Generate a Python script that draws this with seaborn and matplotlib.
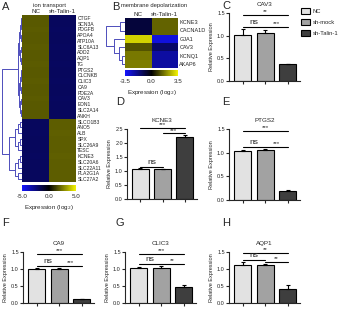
import numpy as np
import pandas as pd
import matplotlib
matplotlib.use('Agg')
import matplotlib.pyplot as plt
import seaborn as sns
from matplotlib.colors import LinearSegmentedColormap
from matplotlib.patches import Patch

sns.set_style('ticks')
plt.rcParams['font.family'] = ['Liberation Sans', 'DejaVu Sans']

# ---------------- data ----------------
groups = ['NC', 'sh-mock', 'sh-Talin-1']
bar_colors = ['#e2e2e2', '#a2a2a2', '#3e3e3e']

ion_genes = ['CTGF', 'SCN3A', 'PDGFB', 'APOA4', 'ATP10A', 'SLC6A13', 'ADD2', 'AQP1', 'TG',
             'PTGS2', 'CLCNKB', 'CLIC3', 'CA9', 'PDE2A', 'CAV3', 'EDN1', 'SLC2A14', 'ANKH',
             'SLCO1B3', 'ANO5', 'ALB', 'SPX', 'SLC26A9', 'TESC', 'KCNE3', 'SLC20A6',
             'SLC22A11', 'PLA2G1A', 'SLC27A2']
ion_nc = [1.8, 1.8, 1.85, 1.8, 1.8, 1.85, 1.8, 1.8, 1.85, 1.8, 1.8, 1.85, 1.8, 1.8, 1.85,
          1.8, 1.8, 1.8, -1.8, -1.8, -1.85, -1.8, -1.8, -1.8, -1.85, -1.8, -1.8, -1.8, -1.8]
ion_sh = [-1.8, -1.8, -1.85, -1.8, -1.8, -1.85, -1.8, -1.8, -1.85, -1.8, -1.8, -1.85, -1.8,
          -1.8, -1.85, -1.8, -1.8, -1.8, 1.9, 1.9, 1.95, 1.9, 1.9, 1.9, 1.95, 1.9, 1.9, 1.9, 1.9]

dep_genes = ['KCNE3', 'CACNA1D', 'GJA1', 'CAV3', 'KCNQ1', 'AKAP6']
dep_nc = [-0.8, -0.8, 3.0, 1.2, 1.7, 1.8]
dep_sh = [1.4, 1.4, -3.0, -1.4, -2.2, -2.2]

bar_genes = ['CAV3', 'KCNE3', 'PTGS2', 'CA9', 'CLIC3', 'AQP1']
bar_means = {'CAV3': [1.02, 1.05, 0.37], 'KCNE3': [1.07, 1.06, 2.20], 'PTGS2': [1.03, 1.05, 0.20],
             'CA9': [1.00, 1.01, 0.12], 'CLIC3': [1.03, 1.03, 0.48], 'AQP1': [1.13, 1.12, 0.42]}
bar_sems = {'CAV3': [0.12, 0.08, 0.01], 'KCNE3': [0.02, 0.02, 0.08], 'PTGS2': [0.02, 0.02, 0.01],
            'CA9': [0.02, 0.02, 0.01], 'CLIC3': [0.02, 0.07, 0.04], 'AQP1': [0.08, 0.04, 0.10]}
# significance: (NC vs sh-mock, NC vs sh-Talin-1, sh-mock vs sh-Talin-1)
bar_sig = {'CAV3': ('ns', '**', '***'), 'KCNE3': ('ns', '***', '***'), 'PTGS2': ('ns', '***', '***'),
           'CA9': ('ns', '***', '***'), 'CLIC3': ('ns', '***', '**'), 'AQP1': ('ns', '**', '**')}
bar_ymax = {'CAV3': 1.5, 'KCNE3': 2.5, 'PTGS2': 1.5, 'CA9': 1.5, 'CLIC3': 1.5, 'AQP1': 1.5}

# ---------------- figure ----------------
W, H = 339, 309
fig = plt.figure(figsize=(W / 100, H / 100), dpi=100)


def rect(x0, y0, x1, y1):
    return [x0 / W, 1 - y1 / H, (x1 - x0) / W, (y1 - y0) / H]


cmap = LinearSegmentedColormap.from_list('byk', ['#1414ff', '#000000', '#f4f400'])
dcolor = '#4d4dbb'


def build(lo, hi, h, decay):
    if hi - lo == 1:
        return lo
    mid = (lo + hi + 1) // 2
    return (h, build(lo, mid, h * decay, decay), build(mid, hi, h * decay, decay))


def draw_tree(ax, node):
    if isinstance(node, int):
        return node + 0.5, 0.0
    h, l, r = node
    yl, hl = draw_tree(ax, l)
    yr, hr = draw_tree(ax, r)
    ax.plot([hl, h, h, hr], [yl, yl, yr, yr], color=dcolor, lw=0.7)
    return (yl + yr) / 2, h


def heat_panel(genes, nc, sh, hrect, crect, drect, vlim, title, tree, gfs, tx):
    ax = fig.add_axes(rect(*hrect))
    cax = fig.add_axes(rect(*crect))
    df = pd.DataFrame({'NC': nc, 'sh-Talin-1': sh}, index=genes)
    sns.heatmap(df, ax=ax, cmap=cmap, vmin=-vlim, vmax=vlim, cbar_ax=cax,
                cbar_kws={'orientation': 'horizontal'}, xticklabels=True, yticklabels=True)
    ax.xaxis.tick_top()
    ax.yaxis.tick_right()
    ax.tick_params(length=0, pad=1)
    ax.set_xticklabels(ax.get_xticklabels(), fontsize=4.5, rotation=0)
    ax.set_yticklabels(ax.get_yticklabels(), fontsize=gfs, rotation=0)
    ax.set_xlabel('')
    ax.set_ylabel('')
    fig.text(tx / W, 1 - 5 / H, title, fontsize=4.2, ha='center', va='center')
    cax.set_xticks([-vlim, 0, vlim])
    cax.set_xticklabels([f'{-vlim:.1f}', '0.0', f'{vlim:.1f}'], fontsize=4.5)
    cax.tick_params(length=0, pad=2)
    cax.set_xlabel('Expression (log$_2$)', fontsize=4.5, labelpad=3)
    for s in cax.spines.values():
        s.set_visible(False)
    dax = fig.add_axes(rect(*drect))
    draw_tree(dax, tree)
    dax.set_xlim(1.08, 0)
    dax.set_ylim(len(genes), 0)
    dax.axis('off')


tree_a = (1.0, build(0, 18, 0.22, 0.6), build(18, 29, 0.62, 0.55))
heat_panel(ion_genes, ion_nc, ion_sh, (22, 15, 76, 182), (22, 185, 76, 191), (0, 15, 22, 182),
           5.0, 'ion transport', tree_a, 3.6, 49)
tree_b = (1.0, (0.25, 0, 1), (0.55, 2, (0.3, 3, (0.15, 4, 5))))
heat_panel(dep_genes, dep_nc, dep_sh, (125, 18, 178, 68), (125, 70, 178, 76), (104, 18, 125, 68),
           3.5, 'membrane depolarization', tree_b, 4.0, 154)

bar_rects = {'CAV3': (229, 13, 300, 81), 'KCNE3': (127, 129, 197, 199), 'PTGS2': (229, 129, 300, 200),
             'CA9': (23, 252, 94, 303), 'CLIC3': (125, 252, 196, 303), 'AQP1': (229, 252, 300, 303)}

for gene in bar_genes:
    ax = fig.add_axes(rect(*bar_rects[gene]))
    m = np.array(bar_means[gene])
    e = np.array(bar_sems[gene])
    df = pd.DataFrame({'group': groups, 'value': m})
    sns.barplot(data=df, x='group', y='value', hue='group', order=groups, hue_order=groups,
                palette=bar_colors, legend=False, ax=ax, edgecolor='black', linewidth=0.8,
                width=0.75, errorbar=None)
    x = np.arange(3)
    ax.errorbar(x, m, yerr=[np.zeros(3), e], fmt='none', ecolor='black', elinewidth=0.8,
                capsize=1.6, capthick=0.8)
    ym = bar_ymax[gene]
    ax.set_ylim(0, ym)
    ax.set_xlim(-0.6, 2.55)
    ax.set_yticks(np.arange(0, ym + 0.01, 0.5))
    ax.set_yticklabels([f'{v:.1f}' for v in np.arange(0, ym + 0.01, 0.5)], fontsize=4)
    ax.set_xticks(x)
    ax.set_xticklabels([])
    ax.set_xlabel('')
    ax.set_ylabel('Relative Expression', fontsize=4, labelpad=2)
    ax.tick_params(length=2, width=0.8, pad=1)
    sns.despine(ax=ax)
    for s in ax.spines.values():
        s.set_linewidth(0.8)
    ax.set_title(gene, fontsize=4.5, pad=5)
    top = m + e
    s_nm, s_nt, s_mt = bar_sig[gene]
    y_nm = max(top[0], top[1]) + 0.06
    y_mt = max(top[1], top[2]) + 0.06
    y_nt = max(max(y_nm, y_mt) + 0.2, 0.97 * ym)
    for (a, b, yy, lab) in [(0, 1, y_nm, s_nm), (1, 2, y_mt, s_mt), (0, 2, y_nt, s_nt)]:
        ax.plot([a, b], [yy, yy], color='black', lw=0.8, clip_on=False)
        fs = 6 if lab == 'ns' else 4.5
        ax.text((a + b) / 2, yy + 0.01 * ym, lab, ha='center', va='bottom', fontsize=fs,
                clip_on=False)

# legend
handles = [Patch(facecolor=c, edgecolor='black', linewidth=0.8, label=g)
           for g, c in zip(groups, bar_colors)]
fig.legend(handles=handles, loc='upper left', bbox_to_anchor=(301 / W, 1 - 8 / H), frameon=False,
           fontsize=4.2, handlelength=1.6, handleheight=1.2, labelspacing=0.9, handletextpad=0.4,
           borderaxespad=0, borderpad=0)

for lab, (x, y) in {'A': (2, 2), 'B': (112, 2), 'C': (222, 1), 'D': (116, 97), 'E': (222, 97),
                    'F': (2, 218), 'G': (116, 218), 'H': (222, 218)}.items():
    fig.text(x / W, 1 - y / H, lab, fontsize=8, va='top', ha='left')

fig.savefig('out.png', dpi=100)
